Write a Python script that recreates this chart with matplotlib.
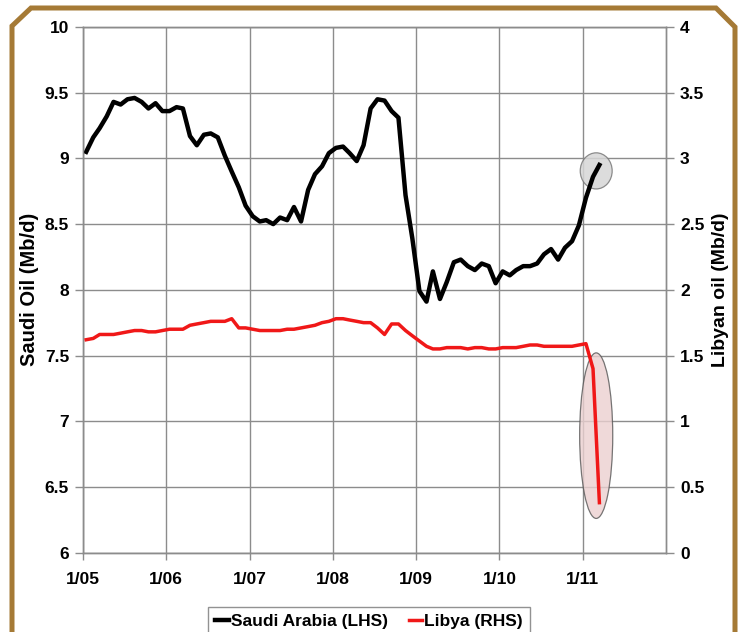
from __future__ import annotations

import matplotlib
import pandas as pd

matplotlib.use("Agg")
import matplotlib.dates as mdates
import matplotlib.pyplot as plt
from matplotlib.lines import Line2D
from matplotlib.patches import Ellipse


OUTPUT_PATH = "out.png"

# monthly observations, Jan 2005 .. Mar 2011
MONTHS = pd.date_range("2005-01-01", "2011-03-01", freq="MS")

SAUDI_MBD = [
    9.05, 9.16, 9.23, 9.32, 9.43, 9.41, 9.45, 9.46, 9.43, 9.38, 9.42, 9.36,
    9.36, 9.39, 9.38, 9.17, 9.10, 9.18, 9.19, 9.16, 9.02, 8.90, 8.78, 8.64,
    8.56, 8.52, 8.53, 8.50, 8.55, 8.53, 8.63, 8.52, 8.76, 8.88, 8.94, 9.04,
    9.08, 9.09, 9.04, 8.98, 9.10, 9.38, 9.45, 9.44, 9.36, 9.31, 8.72, 8.39,
    7.99, 7.91, 8.14, 7.93, 8.06, 8.21, 8.23, 8.18, 8.15, 8.20, 8.18, 8.05,
    8.14, 8.11, 8.15, 8.18, 8.18, 8.20, 8.27, 8.31, 8.23, 8.32, 8.37, 8.49,
    8.70, 8.86, 8.95,
]

LIBYA_MBD = [
    1.62, 1.63, 1.66, 1.66, 1.66, 1.67, 1.68, 1.69, 1.69, 1.68, 1.68, 1.69,
    1.70, 1.70, 1.70, 1.73, 1.74, 1.75, 1.76, 1.76, 1.76, 1.78, 1.71, 1.71,
    1.70, 1.69, 1.69, 1.69, 1.69, 1.70, 1.70, 1.71, 1.72, 1.73, 1.75, 1.76,
    1.78, 1.78, 1.77, 1.76, 1.75, 1.75, 1.71, 1.66, 1.74, 1.74, 1.69, 1.65,
    1.61, 1.57, 1.55, 1.55, 1.56, 1.56, 1.56, 1.55, 1.56, 1.56, 1.55, 1.55,
    1.56, 1.56, 1.56, 1.57, 1.58, 1.58, 1.57, 1.57, 1.57, 1.57, 1.57, 1.58,
    1.59, 1.40, 0.38,
]

XTICK_YEARS = [2005, 2006, 2007, 2008, 2009, 2010, 2011]
XTICK_LABELS = ["1/05", "1/06", "1/07", "1/08", "1/09", "1/10", "1/11"]
LEFT_TICKS = [6, 6.5, 7, 7.5, 8, 8.5, 9, 9.5, 10]
RIGHT_TICKS = [0, 0.5, 1, 1.5, 2, 2.5, 3, 3.5, 4]

FRAME_COLOR = "#A57A36"
GRID_COLOR = "#8C8C8C"
FONT = ["Liberation Sans", "DejaVu Sans"]


def draw_frame(fig) -> None:
    # gold border with clipped top corners, bottom runs off the image
    xs = [12 / 742, 12 / 742, 31 / 742, 716 / 742, 735 / 742, 735 / 742]
    ys = [0.0, 1 - 26 / 632, 1 - 8 / 632, 1 - 8 / 632, 1 - 27 / 632, 0.0]
    fig.add_artist(Line2D(xs, ys, transform=fig.transFigure, color=FRAME_COLOR,
                          lw=3.6, solid_joinstyle="miter", solid_capstyle="butt"))


def plot_chart() -> None:
    fig = plt.figure(figsize=(7.42, 6.32), dpi=100)
    draw_frame(fig)

    ax1 = fig.add_axes([83 / 742, 79.4 / 632, 583 / 742, 525.6 / 632])
    ax2 = ax1.twinx()

    dates = MONTHS + pd.Timedelta(days=14)

    ax1.plot(dates, SAUDI_MBD, color="black", lw=3.2, zorder=3,
             solid_joinstyle="round")
    ax2.plot(dates, LIBYA_MBD, color="#F01818", lw=2.5, zorder=3,
             solid_joinstyle="round")

    # highlight the latest months
    cx = mdates.date2num(dates[-2]) / 2 + mdates.date2num(dates[-1]) / 2
    ax1.add_patch(Ellipse((cx, (SAUDI_MBD[-2] + SAUDI_MBD[-1]) / 2), 140, 0.275,
                          facecolor="#D6D6D6", edgecolor="#7A7A7A", lw=0.9,
                          alpha=0.85, zorder=2))
    ax2.add_patch(Ellipse((cx, (LIBYA_MBD[-2] + LIBYA_MBD[-1]) / 2), 145, 1.26,
                          facecolor="#EBD0D0", edgecolor="#555555", lw=0.9,
                          alpha=0.8, zorder=2))

    ax1.set_xlim(pd.Timestamp("2005-01-01"), pd.Timestamp("2012-01-01"))
    ax1.set_ylim(6, 10)
    ax2.set_ylim(0, 4)

    ax1.set_xticks([pd.Timestamp(f"{y}-01-01") for y in XTICK_YEARS])
    ax1.set_xticklabels(XTICK_LABELS, fontsize=12.5, weight="bold", family=FONT)
    ax1.set_yticks(LEFT_TICKS)
    ax1.set_yticklabels([f"{v:g}" for v in LEFT_TICKS], fontsize=12.5,
                        weight="bold", family=FONT)
    ax2.set_yticks(RIGHT_TICKS)
    ax2.set_yticklabels([f"{v:g}" for v in RIGHT_TICKS], fontsize=12.5,
                        weight="bold", family=FONT)

    ax1.grid(True, color=GRID_COLOR, lw=1.0)
    ax1.set_axisbelow(True)
    ax1.tick_params(axis="x", direction="out", length=5, width=1.0,
                    color=GRID_COLOR, pad=9)
    ax1.tick_params(axis="y", direction="out", length=6, width=1.0,
                    color=GRID_COLOR, pad=4)
    ax2.tick_params(axis="y", direction="out", length=6, width=1.0,
                    color=GRID_COLOR, pad=4)
    for ax in (ax1, ax2):
        for spine in ax.spines.values():
            spine.set_color(GRID_COLOR)
            spine.set_linewidth(1.0)

    ax1.set_ylabel("Saudi Oil (Mb/d)", fontsize=14.5, weight="bold", family=FONT)
    ax1.yaxis.set_label_coords((39 - 83) / 583, 0.5)
    ax2.set_ylabel("Libyan oil (Mb/d)", fontsize=14, weight="bold", family=FONT,
                   rotation=90)
    ax2.yaxis.set_label_coords((712 - 83) / 583, 0.5)

    handles = [Line2D([], [], color="black", lw=3.2),
               Line2D([], [], color="#F01818", lw=2.5)]
    fig.legend(handles, ["Saudi Arabia (LHS)", "Libya (RHS)"], ncol=2,
               loc="upper center", bbox_to_anchor=(369 / 742, 1 - 607 / 632),
               prop={"family": FONT, "weight": "bold", "size": 12.5},
               handlelength=0.8, handletextpad=0.1, columnspacing=1.2,
               frameon=True, fancybox=False, edgecolor="#777777",
               borderpad=0.4, borderaxespad=0)

    fig.savefig(OUTPUT_PATH, dpi=100)
    plt.close(fig)


def main() -> None:
    plot_chart()
    print(f"Saved chart to: {OUTPUT_PATH}")


if __name__ == "__main__":
    main()
